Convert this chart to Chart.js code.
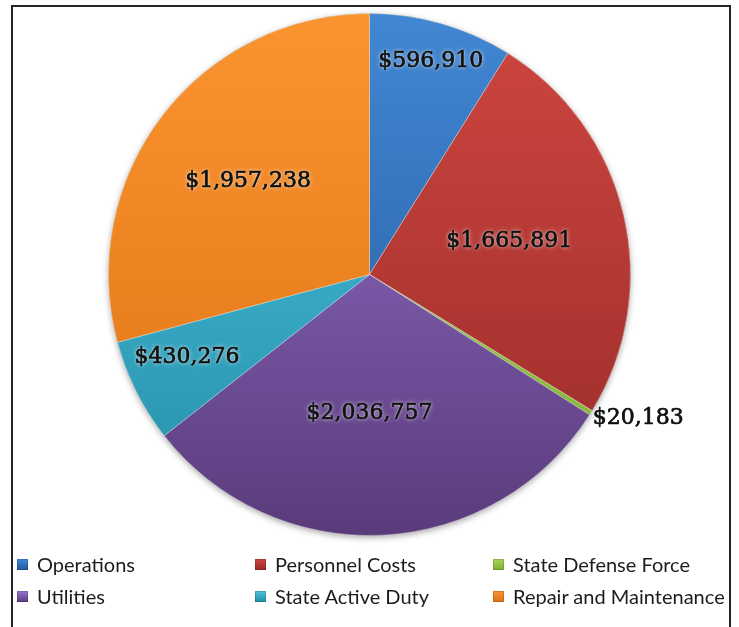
<!DOCTYPE html>
<html>
<head>
<meta charset="utf-8">
<script src="https://cdn.jsdelivr.net/npm/chart.js@4/dist/chart.umd.min.js"></script>
<style>
  html, body { margin: 0; padding: 0; background: #fff; width: 739px; height: 627px; overflow: hidden; }
  #frame { position: absolute; left: 11px; top: 5px; width: 716px; height: 640px; border: 2px solid #262626; }
  #wrap { position: absolute; left: 0; top: 0; width: 739px; height: 627px; }
  #legend { position: absolute; left: 0; top: 0; font-family: Lato, sans-serif; font-size: 20px; color: #1c1c1c; }
  .item { position: absolute; display: flex; align-items: center; height: 20px; white-space: nowrap; }
  .sw { width: 11px; height: 11px; margin-right: 9px; box-shadow: inset 0 0 0 1px rgba(0,0,0,0.15); }
</style>
</head>
<body>
<div id="frame"></div>
<div id="wrap"><canvas id="c" width="739" height="627"></canvas></div>
<div id="legend"></div>
<script>
// Budget categories and amounts (US dollars)
const categories = ['Operations', 'Personnel Costs', 'State Defense Force', 'Utilities', 'State Active Duty', 'Repair and Maintenance'];
const amounts = [596910, 1665891, 20183, 2036757, 430276, 1957238];

// Slice shading: lighter at the top of the pie, darker toward the bottom
const topColors    = ['#4187d3', '#cf4640', '#a6d658', '#9974d1', '#4cc4e0', '#fa9430'];
const bottomColors = ['#24589a', '#972b28', '#7fb033', '#593b7b', '#248ea8', '#dd7313'];

// Where each value label sits: fraction of the radius and angular nudge (degrees), or outside the rim
const labelPlacement = [
  { r: 0.85,  a: 0 },
  { r: 0.55,  a: 0 },
  { outside: true },
  { r: 0.533, a: 2.8 },
  { r: 0.767, a: 2.3 },
  { r: 0.586, a: 0 }
];

const money = v => '$' + v.toLocaleString('en-US');

function sliceFill(ctx) {
  const chart = ctx.chart;
  const area = chart.chartArea;
  if (!area) return topColors[ctx.dataIndex];
  const g = chart.ctx.createLinearGradient(0, area.top, 0, area.bottom);
  g.addColorStop(0, topColors[ctx.dataIndex]);
  g.addColorStop(1, bottomColors[ctx.dataIndex]);
  return g;
}

// Soft shadow under the whole pie
const pieShadow = {
  id: 'pieShadow',
  beforeDatasetsDraw(chart) {
    const arc = chart.getDatasetMeta(0).data[0];
    if (!arc) return;
    const { x, y, outerRadius } = arc.getProps(['x', 'y', 'outerRadius'], true);
    const c = chart.ctx;
    c.save();
    c.beginPath();
    c.arc(x, y, outerRadius, 0, Math.PI * 2);
    c.shadowColor = 'rgba(0,0,0,0.35)';
    c.shadowBlur = 6;
    c.shadowOffsetY = 2;
    c.fillStyle = '#888';
    c.fill();
    c.restore();
  }
};

// Dollar value labels on the slices
const valueLabels = {
  id: 'valueLabels',
  afterDatasetsDraw(chart) {
    const c = chart.ctx;
    const meta = chart.getDatasetMeta(0);
    const data = chart.data.datasets[0].data;
    c.save();
    c.font = '22px "DejaVu Serif"';
    c.fillStyle = '#121212';
    c.strokeStyle = '#121212';
    c.lineWidth = 0.6;
    c.lineJoin = 'round';
    c.textBaseline = 'middle';
    meta.data.forEach((arc, i) => {
      const p = arc.getProps(['x', 'y', 'startAngle', 'endAngle', 'outerRadius'], true);
      const place = labelPlacement[i];
      const text = money(data[i]);
      let tx, ty;
      if (place.outside) {
        const mid = (p.startAngle + p.endAngle) / 2;
        tx = p.x + Math.cos(mid) * p.outerRadius + 2;
        ty = p.y + Math.sin(mid) * p.outerRadius + 5;
        c.textAlign = 'left';
      } else {
        const mid = (p.startAngle + p.endAngle) / 2 + place.a * Math.PI / 180;
        tx = p.x + Math.cos(mid) * p.outerRadius * place.r;
        ty = p.y + Math.sin(mid) * p.outerRadius * place.r;
        c.textAlign = 'center';
      }
      c.shadowColor = 'rgba(255,255,255,0.75)';
      c.shadowBlur = 5;
      c.fillText(text, tx, ty);
      c.shadowBlur = 2;
      c.fillText(text, tx, ty);
      c.shadowBlur = 0;
      c.strokeText(text, tx, ty);
    });
    c.restore();
  }
};

new Chart(document.getElementById('c'), {
  type: 'pie',
  data: {
    labels: categories,
    datasets: [{
      data: amounts,
      backgroundColor: sliceFill,
      borderColor: 'rgba(255,255,255,0.35)',
      borderWidth: 1,
      offset: 0,
      hoverOffset: 0
    }]
  },
  options: {
    responsive: false,
    animation: false,
    layout: { padding: { left: 108, right: 108, top: 13, bottom: 91 } },
    plugins: {
      legend: { display: false },
      tooltip: { enabled: false }
    }
  },
  plugins: [pieShadow, valueLabels]
});

// Legend: three columns, two rows
const legendCols = [17, 255, 493];
const legendRows = [564, 596];
const legend = document.getElementById('legend');
categories.forEach((name, i) => {
  const item = document.createElement('div');
  item.className = 'item';
  item.style.left = legendCols[i % 3] + 'px';
  item.style.top = (legendRows[Math.floor(i / 3)] - 10) + 'px';
  const sw = document.createElement('span');
  sw.className = 'sw';
  sw.style.background = 'linear-gradient(' + topColors[i] + ', ' + bottomColors[i] + ')';
  const label = document.createElement('span');
  label.textContent = name;
  item.appendChild(sw);
  item.appendChild(label);
  legend.appendChild(item);
});
</script>
</body>
</html>
